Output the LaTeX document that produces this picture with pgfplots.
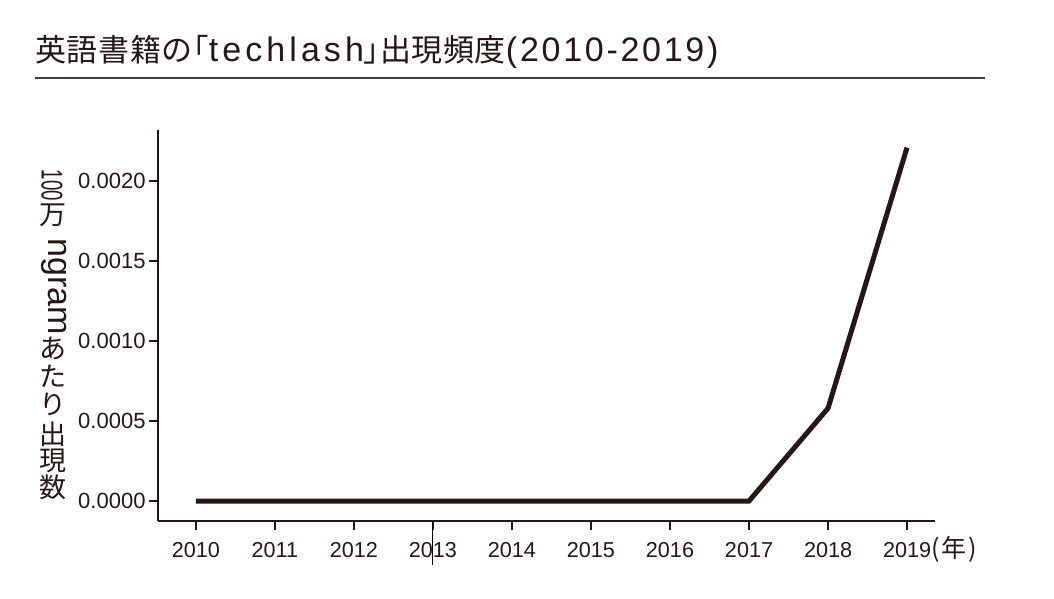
\documentclass[border=0pt]{standalone}
\usepackage{fontspec}
\usepackage{graphicx}
\usepackage{pgfplots}
\pgfplotsset{compat=1.18}
\setmainfont{Liberation Sans}
\newfontfamily\jp{Noto Sans CJK JP}
\newfontfamily\tjp[LetterSpace=2]{Noto Sans CJK JP}
\newfontfamily\tlatA[LetterSpace=12]{Liberation Sans}
\newfontfamily\tlatB[LetterSpace=8]{Liberation Sans}
\definecolor{ink}{RGB}{35,24,21}

\begin{document}
\begin{tikzpicture}[x=1pt,y=1pt]
\useasboundingbox (-158,-77) rectangle (896,521);
% title and rule
\node[anchor=base west, inner sep=0, text=ink] at (-123,459)
  {{\tjp\fontsize{31}{31}\selectfont 英語書籍の｢}{\tlatA\fontsize{34}{34}\selectfont techlash}{\tjp\fontsize{31}{31}\selectfont ｣出現頻度}{\tlatB\fontsize{34}{34}\selectfont (2010-2019)}};
\draw[ink!85, line width=1.2pt] (-123,443) -- (827,443);
% vertical y label, one piece at a time
\begin{scope}[every node/.style={text=ink, inner sep=0}]
\node[rotate=-90, font=\fontsize{30}{30}\selectfont] at (-106,335.5) {\scalebox{0.62}[1]{100}};
\node[font=\jp\fontsize{27}{28}\selectfont] at (-105,306) {万};
\node[rotate=-90, font=\fontsize{34}{34}\selectfont] at (-104,234.5) {ngram};
\node[font=\jp\fontsize{27}{28}\selectfont] at (-105,172.5) {あ};
\node[font=\jp\fontsize{27}{28}\selectfont] at (-105,145) {た};
\node[font=\jp\fontsize{27}{28}\selectfont] at (-105,116.5) {り};
\node[font=\jp\fontsize{27}{28}\selectfont] at (-105,87) {出};
\node[font=\jp\fontsize{27}{28}\selectfont] at (-105,60) {現};
\node[font=\jp\fontsize{27}{28}\selectfont] at (-105,33.5) {数};
\end{scope}
\begin{axis}[
  at={(0,0)}, anchor=south west, scale only axis,
  width=777pt, height=391pt,
  xmin=2009.52, xmax=2019.354,
  ymin=-0.000125, ymax=0.00232,
  axis x line*=bottom, axis y line*=left,
  axis line style={-, ink, line width=2pt},
  tick style={ink, line width=1.6pt},
  tick align=outside, major tick length=9pt,
  xtick={2010,2011,2012,2013,2014,2015,2016,2017,2018,2019},
  xticklabels={2010,2011,2012,2013,2014,2015,2016,2017,2018,
    2019\rlap{\smash{\jp\fontsize{25}{25}\selectfont (\kern2pt 年\kern2pt)}}},
  xticklabel style={text=ink, font=\fontsize{21.6}{22}\selectfont, yshift=-9pt},
  ytick={0,0.0005,0.001,0.0015,0.002},
  scaled y ticks=false,
  yticklabel style={text=ink, font=\fontsize{22}{22}\selectfont,
    /pgf/number format/.cd, fixed, fixed zerofill, precision=4, assume math mode=true},
  clip=false,
]
\addplot[ink, line width=5pt, line join=miter] coordinates {
  (2010,0) (2011,0) (2012,0) (2013,0) (2014,0) (2015,0) (2016,0) (2017,0)
  (2018,0.00058) (2019,0.00221)
};
\end{axis}
\draw[black, line width=0.8pt] (274,0) -- (274,-44);
\end{tikzpicture}
\end{document}
